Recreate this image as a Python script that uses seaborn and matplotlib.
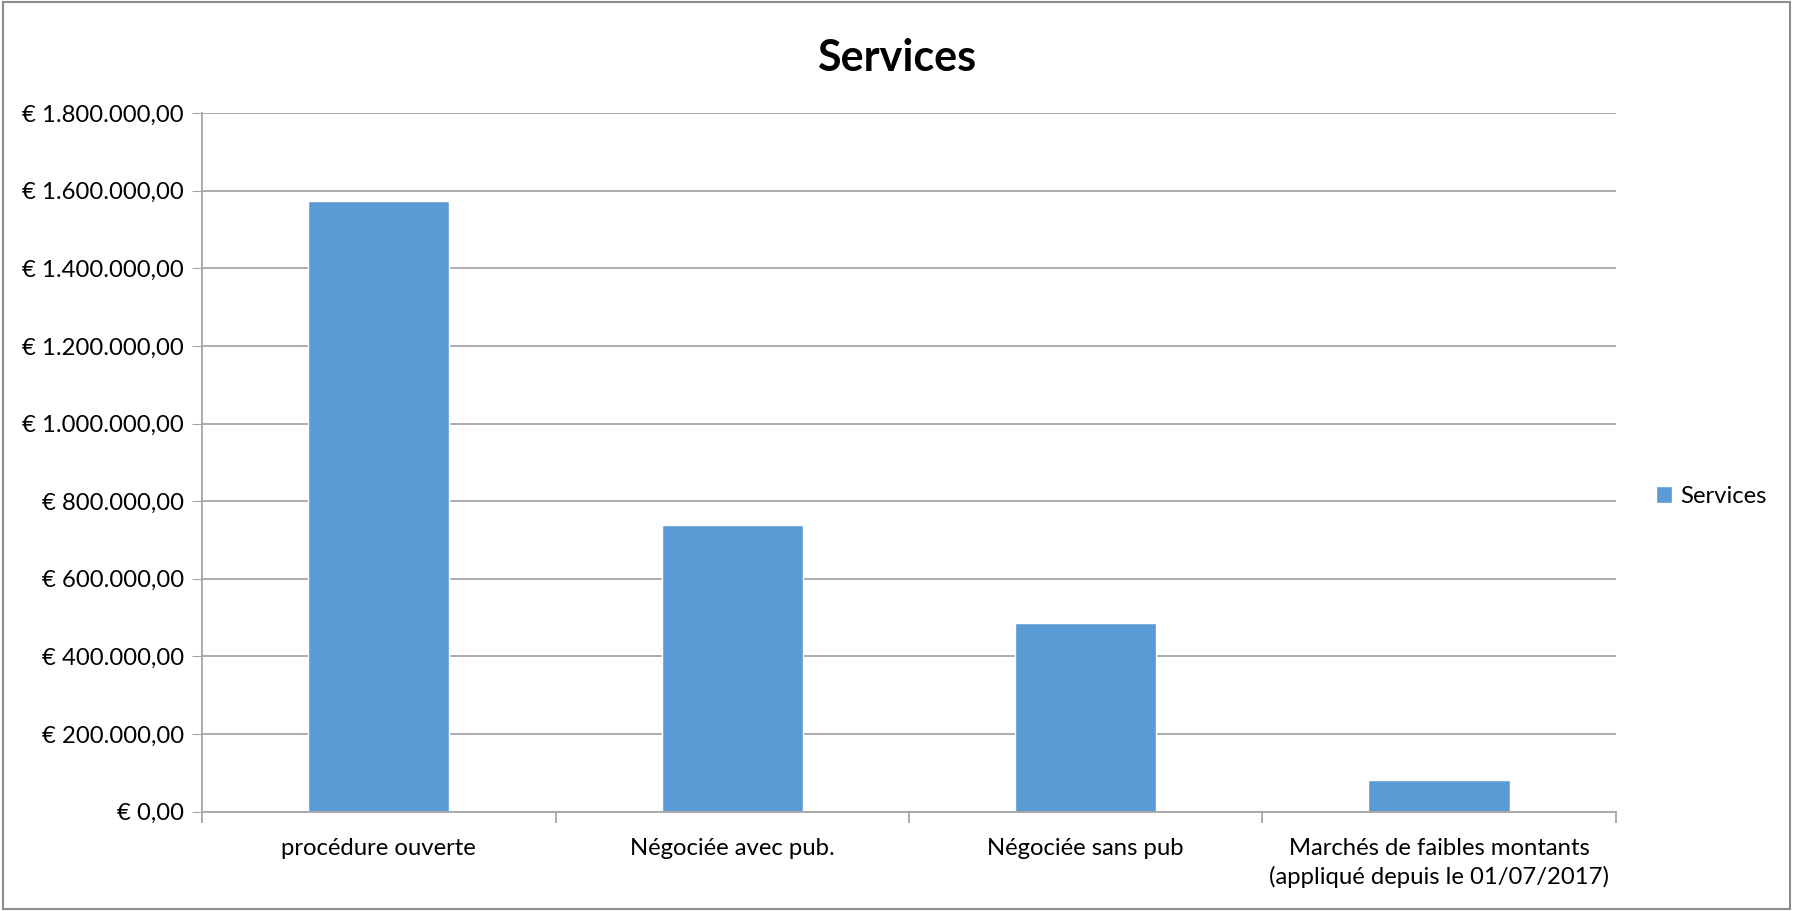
import pandas as pd
import matplotlib
matplotlib.use("Agg")
import matplotlib.pyplot as plt
import matplotlib.ticker as mticker
from matplotlib.patches import Rectangle
import seaborn as sns

# données
categories = ["procédure ouverte", "Négociée avec pub.", "Négociée sans pub",
              "Marchés de faibles montants\n(appliqué depuis le 01/07/2017)"]
montants = [1573000, 739000, 486000, 82500]
serie = "Services"

df = pd.DataFrame({"cat": categories, "val": montants, "serie": serie})

sns.set_style("white")
plt.rcParams['font.family'] = ['Lato', 'DejaVu Sans']
plt.rcParams['text.color'] = 'black'
plt.rcParams['xtick.color'] = 'black'
plt.rcParams['ytick.color'] = 'black'

fig = plt.figure(figsize=(17.93, 9.11), dpi=100)
ax = fig.add_axes([0.1127, 0.109, 0.7885, 0.767])

sns.barplot(data=df, x="cat", y="val", hue="serie", palette=["#5B9BD5"],
            width=0.4, ax=ax, saturation=1, legend=True)

ax.set_ylim(0, 1800000)
ax.set_xlim(-0.5, 3.5)
ax.yaxis.set_major_locator(mticker.MultipleLocator(200000))


def euro(v, pos):
    s = f"{v:,.2f}".replace(",", " ").replace(".", ",").replace(" ", ".")
    return "€ " + s


ax.yaxis.set_major_formatter(mticker.FuncFormatter(euro))
ax.grid(axis="y", color="#a6a6a6", linewidth=1.3)
ax.set_axisbelow(True)
for s in ["top", "right"]:
    ax.spines[s].set_visible(False)
ax.spines["left"].set_color("#a6a6a6")
ax.spines["bottom"].set_color("#a6a6a6")
ax.spines["left"].set_linewidth(1.3)
ax.spines["bottom"].set_linewidth(1.3)

ax.tick_params(axis="y", left=True, length=7, color="#a6a6a6", labelsize=17.2,
               labelcolor="black", pad=6)
ax.tick_params(axis="x", which="major", length=0, labelsize=17.2, labelcolor="black", pad=19)
ax.set_xticks([-0.5, 0.5, 1.5, 2.5, 3.5], minor=True)
ax.tick_params(axis="x", which="minor", bottom=True, length=8, color="#a6a6a6", width=1.3)
for t in ax.get_xticklabels():
    t.set_linespacing(1.35)
ax.set_xlabel("")
ax.set_ylabel("")

fig.suptitle("Services", x=0.5, y=0.958, fontsize=31, fontweight="bold", color="black")

ax.legend(loc="center left", bbox_to_anchor=(0.918, 0.455), bbox_transform=fig.transFigure,
          frameon=False, fontsize=17.2, handlelength=0.7, handleheight=0.7,
          handletextpad=0.35, borderaxespad=0)

fig.patches.append(Rectangle((0.0015, 0.002), 0.997, 0.996, transform=fig.transFigure,
                             fill=False, edgecolor="#8c8c8c", linewidth=1.5))

fig.savefig("out.png", dpi=100)
